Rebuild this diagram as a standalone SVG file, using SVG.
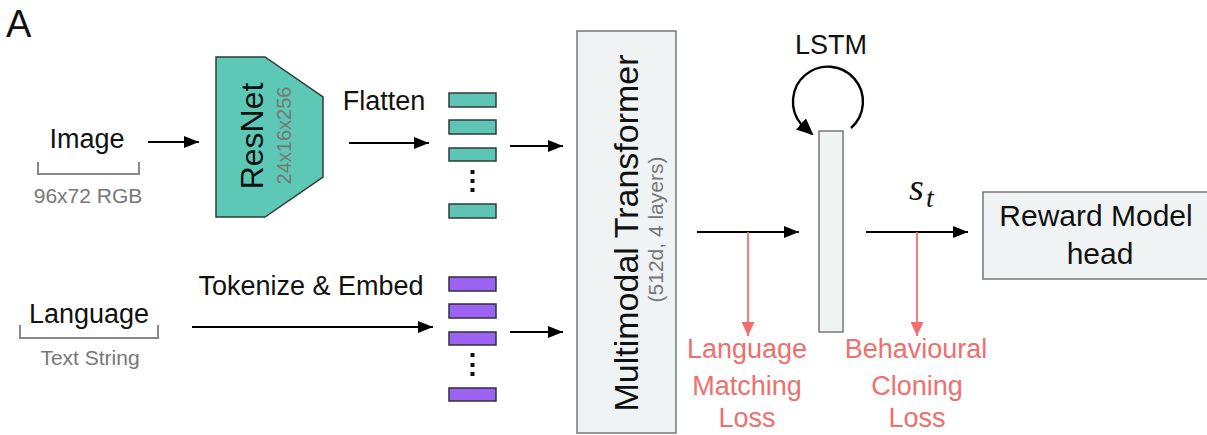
<svg xmlns="http://www.w3.org/2000/svg" width="1207" height="435" viewBox="0 0 1207 435">
<style>
text{font-family:"Liberation Sans",Arial,sans-serif;fill:#111}
.lbl{font-size:27px}
.sub{font-size:21px;fill:#777}
.red{font-size:27px;fill:#ef6f6c}
.tok-t{fill:#5ec4b5;stroke:#2f3b3a;stroke-width:1.5}
.tok-p{fill:#9c63f2;stroke:#2f2f3f;stroke-width:1.5}
.box{fill:#f0f3f4;stroke:#777;stroke-width:1.5}
.arr{stroke:#000;stroke-width:2.2;fill:none;marker-end:url(#ah)}
.rarr{stroke:#ef6f6c;stroke-width:1.8;fill:none;marker-end:url(#rh)}
.br{stroke:#888;stroke-width:2;fill:none}
.dot{fill:#111}
.math{font-family:"Liberation Serif","DejaVu Serif",serif;font-style:italic}
</style>
<defs>
<marker id="ah" markerUnits="userSpaceOnUse" markerWidth="15" markerHeight="12" refX="15" refY="6" orient="auto"><path d="M0,0 L15,6 L0,12 Z" fill="#000"/></marker>
<marker id="lh" markerUnits="userSpaceOnUse" markerWidth="17" markerHeight="15" refX="15" refY="7.5" orient="auto"><path d="M0,0 L17,7.5 L0,15 Z" fill="#000"/></marker>
<marker id="rh" markerUnits="userSpaceOnUse" markerWidth="14" markerHeight="13" refX="14" refY="6.5" orient="auto"><path d="M0,0 L14,6.5 L0,13 Z" fill="#ef6f6c"/></marker>
</defs>
<rect width="1207" height="435" fill="#fff"/>
<text x="6" y="37" style="font-size:38px">A</text>

<g id="image">
<text class="lbl" x="87" y="148" text-anchor="middle">Image</text>
<path class="br" d="M38,162 V174 H139 V162"/>
<text class="sub" x="88" y="203" text-anchor="middle">96x72 RGB</text>
</g>

<g id="language">
<text class="lbl" x="89" y="323" text-anchor="middle">Language</text>
<path class="br" d="M20,325 V338 H158 V325"/>
<text class="sub" x="90" y="365" text-anchor="middle">Text String</text>
</g>

<g id="resnet">
<polygon points="216,57 265,57 323,97 323,177 265,217 216,217" fill="#5ec8b7" stroke="#2f3b3a" stroke-width="1.5"/>
<text transform="translate(263,136) rotate(-90)" text-anchor="middle" style="font-size:32px">ResNet</text>
<text class="sub" transform="translate(291,135.5) rotate(-90)" text-anchor="middle" style="font-size:20px">24x16x256</text>
</g>

<g id="image-tokens">
<rect class="tok-t" x="449" y="93" width="47" height="14"/>
<rect class="tok-t" x="449" y="120" width="47" height="14"/>
<rect class="tok-t" x="449" y="148" width="47" height="13"/>
<rect class="dot" x="470.5" y="170" width="4" height="4"/>
<rect class="dot" x="470.5" y="179" width="4" height="4"/>
<rect class="dot" x="470.5" y="188" width="4" height="4"/>
<rect class="tok-t" x="449" y="204" width="47" height="14"/>
</g>

<g id="language-tokens">
<rect class="tok-p" x="449" y="277" width="47" height="14"/>
<rect class="tok-p" x="449" y="304" width="47" height="14"/>
<rect class="tok-p" x="449" y="332" width="47" height="13"/>
<rect class="dot" x="470.5" y="353" width="4" height="4"/>
<rect class="dot" x="470.5" y="363" width="4" height="4"/>
<rect class="dot" x="470.5" y="372" width="4" height="4"/>
<rect class="tok-p" x="449" y="388" width="47" height="13"/>
</g>

<g id="transformer">
<rect class="box" x="577" y="31" width="99" height="402"/>
<text transform="translate(638,233) rotate(-90)" text-anchor="middle" style="font-size:34px">Multimodal Transformer</text>
<text class="sub" transform="translate(663,229.5) rotate(-90)" text-anchor="middle">(512d, 4 layers)</text>
</g>

<g id="lstm">
<text class="lbl" x="831" y="54" text-anchor="middle">LSTM</text>
<rect class="box" x="819" y="131" width="24" height="201"/>
</g>

<g id="reward-head">
<rect class="box" x="983" y="192" width="232" height="87"/>
<text x="1096" y="226" text-anchor="middle" style="font-size:30px">Reward Model</text>
<text x="1100" y="264" text-anchor="middle" style="font-size:30px">head</text>
</g>

<g id="lm-loss">
<text class="red" x="747" y="358" text-anchor="middle">Language</text>
<text class="red" x="747" y="395" text-anchor="middle">Matching</text>
<text class="red" x="747" y="427" text-anchor="middle">Loss</text>
</g>

<g id="bc-loss">
<text class="red" x="916" y="358" text-anchor="middle">Behavioural</text>
<text class="red" x="917" y="395" text-anchor="middle">Cloning</text>
<text class="red" x="917" y="427" text-anchor="middle">Loss</text>
</g>

<g id="labels">
<text class="lbl" x="384" y="110" text-anchor="middle">Flatten</text>
<text class="lbl" x="311" y="295" text-anchor="middle">Tokenize &amp; Embed</text>
<text class="math" x="909" y="200" style="font-size:38px">s</text>
<text class="math" x="926" y="207" style="font-size:28px">t</text>
</g>

<g id="connectors">
<line class="arr" x1="148" y1="142" x2="199" y2="142"/>
<line class="arr" x1="349" y1="143" x2="429" y2="143"/>
<line class="arr" x1="192" y1="327" x2="433" y2="327"/>
<line class="arr" x1="510" y1="146" x2="563" y2="146"/>
<line class="arr" x1="510" y1="332" x2="563" y2="332"/>
<line class="arr" x1="697" y1="232" x2="799" y2="232"/>
<line class="arr" x1="866" y1="232" x2="968" y2="232"/>
<line class="rarr" x1="748" y1="232" x2="748" y2="336"/>
<line class="rarr" x1="917" y1="232" x2="917" y2="336"/>
<path d="M851,128 A35,35 0 1 0 801,124 L812,134" stroke="#000" stroke-width="2.4" fill="none" marker-end="url(#lh)"/>
</g>
</svg>
